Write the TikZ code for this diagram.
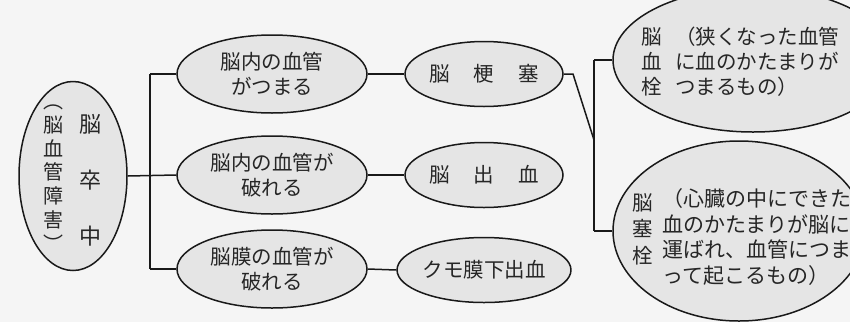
\documentclass[tikz,border=0pt]{standalone}
\usepackage{fontspec}
\newfontfamily\jp{Noto Sans CJK JP}
\usetikzlibrary{shapes.geometric}
\begin{document}
\begin{tikzpicture}[x=1pt,y=-1pt,
  oval/.style={ellipse, draw=black!90, line width=1.5pt, fill=gray!20, inner sep=0pt},
  link/.style={draw=black!90, line width=1.5pt},
  txt/.style={font=\jp\fontsize{20.5}{25}\selectfont, align=center, inner sep=0pt, text=black!85}]
\useasboundingbox (0,0) rectangle (850,322);
\clip (0,0) rectangle (850,322);
\fill[gray!8] (0,0) rectangle (850,322);

% left
\node[oval, minimum width=108pt, minimum height=189pt] (stroke) at (73,176) {};
\node[txt, font=\jp\fontsize{22}{56}\selectfont] (s1) at (90,180) {脳\\卒\\中};
\node[txt, font=\jp\fontsize{20}{23.75}\selectfont] (s2) at (53,178) {︵\\脳\\血\\管\\障\\害\\︶};

% column 2
\node[oval, txt, minimum width=190pt, minimum height=78pt] (a1) at (272,74) {脳内の血管\\がつまる};
\node[oval, txt, minimum width=190pt, minimum height=78pt] (a2) at (272,175) {脳内の血管が\\破れる};
\node[oval, txt, minimum width=190pt, minimum height=78pt] (a3) at (272,269) {脳膜の血管が\\破れる};

% column 3
\node[oval, txt, minimum width=158pt, minimum height=65pt] (b1) at (484,74) {脳\hspace{24pt}梗\hspace{24pt}塞};
\node[oval, txt, minimum width=158pt, minimum height=65pt] (b2) at (484,175) {脳\hspace{24pt}出\hspace{24pt}血};
\node[oval, txt, minimum width=158pt, minimum height=65pt] (b3) at (484,270) {クモ膜下出血};

% right
\node[oval, minimum width=280pt, minimum height=144pt] (r1) at (753,60) {};
\node[txt] (r1k) at (652,62) {脳\\血\\栓};
\node[txt, align=left, anchor=west] (r1t) at (675,62) {（狭くなった血管\\に血のかたまりが\\つまるもの）};

\node[oval, minimum width=252pt, minimum height=180pt] (r2) at (739,231) {};
\node[txt, font=\jp\fontsize{20.5}{26.5}\selectfont] (r2k) at (643,229) {脳\\塞\\栓};
\node[txt, align=left, anchor=west, font=\jp\fontsize{21}{25.5}\selectfont] (r2t) at (662,237) {（心臓の中にできた\\血のかたまりが脳に\\運ばれ、血管につま\\って起こるもの）};

% connectors
\coordinate (v1) at (150,74);
\coordinate (v3) at (150,269);
\draw[link] (v1) -- (v3);
\draw[link] (v1) -- (a1.west);
\draw[link] (v3) -- (a3.west);
\draw[link] (stroke.east) -- (a2.west);
\draw[link] (a1.east) -- (b1.west);
\draw[link] (a2.east) -- (b2.west);
\draw[link] (a3.east) -- (b3.west);

\coordinate (j1) at (573,74);
\coordinate (j2) at (594,140);
\coordinate (vt) at (594,60);
\coordinate (vb) at (594,231);
\draw[link] (b1.east) -- (j1) -- (j2);
\draw[link] (vt) -- (vb);
\draw[link] (vt) -- (r1.west);
\draw[link] (vb) -- (r2.west);
\end{tikzpicture}
\end{document}
